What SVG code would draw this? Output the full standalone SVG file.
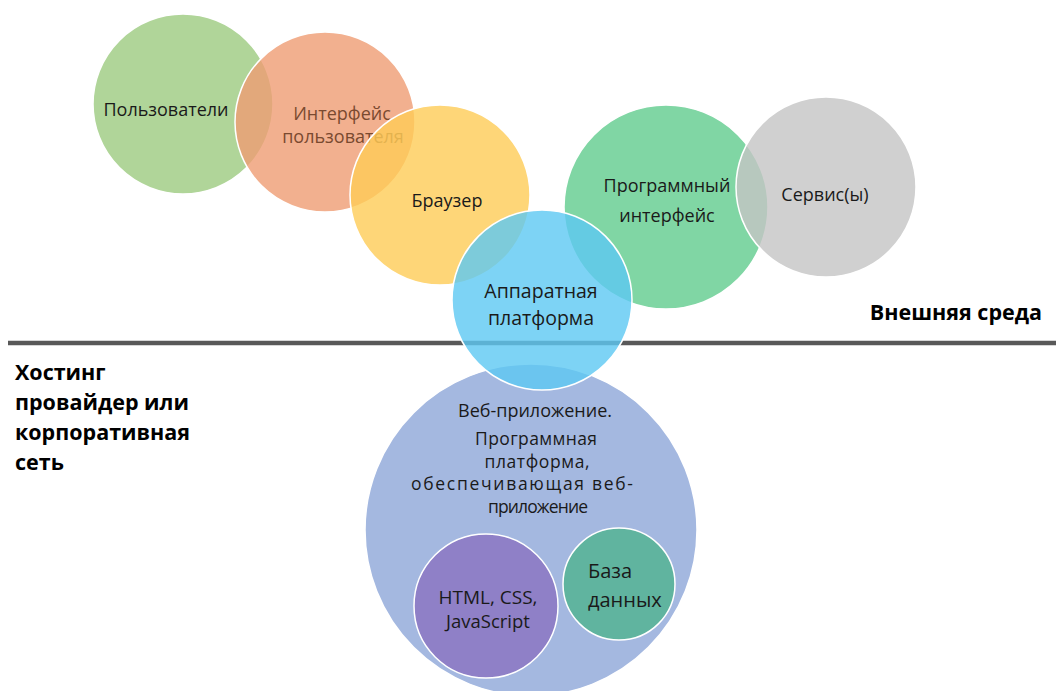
<svg xmlns="http://www.w3.org/2000/svg" width="1056" height="691" viewBox="0 0 1056 691">
  <style>
    .c { stroke: #ffffff; stroke-width: 1.5; fill-opacity: 0.8; }
    .t { font-family: "Open Sans", "Noto Sans", sans-serif; font-size: 18px; fill: #1a1a1a; text-anchor: middle; }
    .b { font-family: "Open Sans", "Noto Sans", sans-serif; font-size: 21.5px; font-weight: bold; fill: #000000; }
    .p { font-size: 17.5px; }
  </style>
  <rect width="1056" height="691" fill="#ffffff"/>

  <!-- boundary between the outside world and the hosting side -->
  <g id="divider">
    <line x1="8" y1="343" x2="1056" y2="343" stroke="#595959" stroke-width="4.5"/>
  </g>

  <g id="users">
    <circle class="c" cx="183" cy="104" r="90" fill="#9ccb7f"/>
    <text class="t" x="166" y="116">Пользователи</text>
  </g>
  <g id="ui">
    <circle class="c" cx="325" cy="122" r="90" fill="#ef9c73"/>
    <text class="t" x="342" y="120" style="fill:#7a4a30">Интерфейс</text>
    <text class="t" x="343" y="143" style="fill:#7a4a30">пользователя</text>
  </g>
  <g id="browser">
    <circle class="c" cx="440" cy="195" r="90" fill="#fecc56"/>
    <text class="t" x="447" y="207">Браузер</text>
  </g>
  <g id="api">
    <circle class="c" cx="666" cy="207" r="102" fill="#60cc8d"/>
    <text class="t" x="667" y="192">Программный</text>
    <text class="t" x="667" y="222">интерфейс</text>
  </g>
  <g id="services">
    <circle class="c" cx="826" cy="187" r="90" fill="#c4c4c4"/>
    <text class="t" x="825" y="201">Сервис(ы)</text>
  </g>
  <g id="webapp">
    <circle class="c" cx="531" cy="530" r="166" fill="#8da6d8"/>
    <text class="t" x="535" y="417">Веб-приложение.</text>
    <text class="t p" x="536" y="445" textLength="122" lengthAdjust="spacing">Программная</text>
    <text class="t p" x="537" y="467.5" textLength="105" lengthAdjust="spacing">платформа,</text>
    <text class="t p" x="522" y="490" textLength="222" lengthAdjust="spacing">обеспечивающая веб-</text>
    <text class="t p" x="538" y="512.5" textLength="100" lengthAdjust="spacing">приложение</text>
  </g>
  <g id="hardware">
    <circle class="c" cx="542" cy="300" r="90" fill="#5cc8f3"/>
    <text class="t" x="541" y="298" style="font-size:19.5px">Аппаратная</text>
    <text class="t" x="541" y="325" style="font-size:19.5px">платформа</text>
  </g>
  <g id="frontend">
    <circle class="c" cx="486" cy="606" r="72" fill="#8a72c0" fill-opacity="1"/>
    <text class="t" x="488" y="604" style="font-size:19px">HTML, CSS,</text>
    <text class="t" x="488" y="628" style="font-size:18.5px">JavaScript</text>
  </g>
  <g id="database">
    <circle class="c" cx="619" cy="584" r="56" fill="#4fb38f" fill-opacity="1"/>
    <text class="t" x="588" y="578" style="text-anchor:start;font-size:20px">База</text>
    <text class="t" x="588" y="607" style="text-anchor:start;font-size:20px">данных</text>
  </g>

  <g id="zones">
    <text class="b" x="1042" y="320" text-anchor="end">Внешняя среда</text>
    <text class="b" x="15" y="380">Хостинг</text>
    <text class="b" x="15" y="410">провайдер или</text>
    <text class="b" x="15" y="440">корпоративная</text>
    <text class="b" x="15" y="470">сеть</text>
  </g>
</svg>
